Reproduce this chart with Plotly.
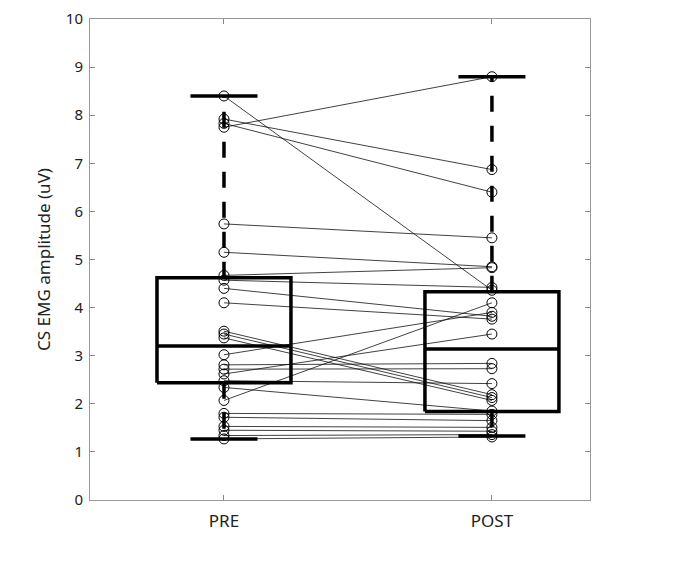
import plotly.graph_objects as go

# ---- data ----
groups = ["PRE", "POST"]
group_pos = [1, 2]

pre_values = [8.40, 7.92, 7.83, 7.75, 5.74, 5.15, 4.67, 4.57, 4.40, 4.10,
              3.51, 3.45, 3.37, 3.02, 2.81, 2.72, 2.62, 2.48, 2.34, 2.07,
              1.80, 1.72, 1.53, 1.45, 1.34, 1.27]
post_values = [4.36, 6.87, 6.40, 8.80, 5.45, 4.85, 4.83, 4.42, 3.82, 3.76,
               2.19, 2.13, 2.07, 3.90, 2.84, 2.73, 3.45, 2.42, 1.85, 4.10,
               1.78, 1.65, 1.51, 1.43, 1.36, 1.31]

# box statistics as drawn: lower whisker, Q1, median, Q3, upper whisker
box_low = [1.27, 1.33]
box_q1 = [2.44, 1.84]
box_median = [3.20, 3.14]
box_q3 = [4.62, 4.33]
box_high = [8.40, 8.80]

y_ticks = list(range(0, 11))
y_title = "CS EMG amplitude (uV)"

BOX_HALF = 0.25
CAP_HALF = 0.125

fig = go.Figure()

# paired lines
for a, b in zip(pre_values, post_values):
    fig.add_trace(go.Scatter(
        x=group_pos, y=[a, b], mode="lines",
        line=dict(color="#111", width=0.8),
        hoverinfo="skip", showlegend=False))

# markers
fig.add_trace(go.Scatter(
    x=[group_pos[0]] * len(pre_values), y=pre_values, mode="markers",
    marker=dict(symbol="circle-open", size=10, color="black", line=dict(width=1)),
    showlegend=False))
fig.add_trace(go.Scatter(
    x=[group_pos[1]] * len(post_values), y=post_values, mode="markers",
    marker=dict(symbol="circle-open", size=10, color="black", line=dict(width=1)),
    showlegend=False))

# boxes
for i, c in enumerate(group_pos):
    fig.add_trace(go.Scatter(
        x=[c - BOX_HALF, c + BOX_HALF, c + BOX_HALF, c - BOX_HALF, c - BOX_HALF],
        y=[box_q1[i], box_q1[i], box_q3[i], box_q3[i], box_q1[i]],
        mode="lines", line=dict(color="black", width=3.5),
        hoverinfo="skip", showlegend=False))
    fig.add_trace(go.Scatter(
        x=[c - BOX_HALF, c + BOX_HALF], y=[box_median[i], box_median[i]],
        mode="lines", line=dict(color="black", width=3.5),
        hoverinfo="skip", showlegend=False))
    fig.add_trace(go.Scatter(
        x=[c, c], y=[box_q3[i], box_high[i]],
        mode="lines", line=dict(color="black", width=3.5, dash="16px,14px"),
        hoverinfo="skip", showlegend=False))
    fig.add_trace(go.Scatter(
        x=[c, c], y=[box_q1[i], box_low[i]],
        mode="lines", line=dict(color="black", width=3.5, dash="16px,14px"),
        hoverinfo="skip", showlegend=False))
    for v in (box_high[i], box_low[i]):
        fig.add_trace(go.Scatter(
            x=[c - CAP_HALF, c + CAP_HALF], y=[v, v],
            mode="lines", line=dict(color="black", width=3.5),
            hoverinfo="skip", showlegend=False))

fig.update_layout(
    width=677, height=559,
    margin=dict(l=82, r=95, t=11, b=67, autoexpand=False),
    paper_bgcolor="white", plot_bgcolor="white",
    font=dict(family="Noto Sans, sans-serif", color="#222"),
    showlegend=False,
)
fig.update_xaxes(
    range=[0.5, 2.366], tickvals=group_pos, ticktext=groups,
    ticks="inside", ticklen=5, tickcolor="#888", showline=True,
    linecolor="#999", linewidth=1, mirror="ticks", showgrid=False,
    zeroline=False, automargin=False, ticklabelstandoff=6,
    ticklabeloverflow="allow",
    tickfont=dict(size=17, color="#222"))
fig.update_yaxes(
    range=[0, 10], tickvals=y_ticks, ticks="inside", ticklen=5,
    tickcolor="#888", showline=True, linecolor="#999", linewidth=1,
    mirror="ticks", showgrid=False, zeroline=False, automargin=False,
    ticklabelstandoff=3, ticklabeloverflow="allow",
    tickfont=dict(size=15, color="#222"),
    title=dict(text=y_title, font=dict(size=17, color="#222"), standoff=10))

fig.write_html("out.html")
